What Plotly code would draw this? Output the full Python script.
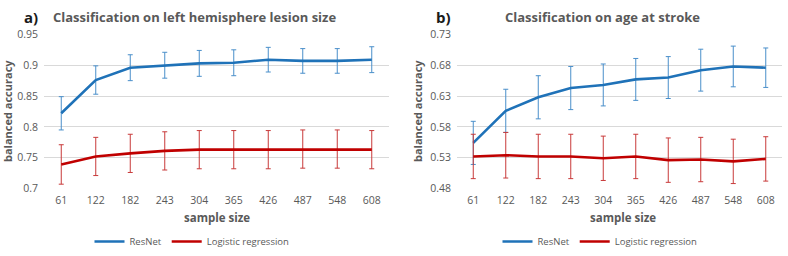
import plotly.graph_objects as go

sample_sizes = ["61", "122", "182", "243", "304", "365", "426", "487", "548", "608"]

# Panel a: left hemisphere lesion size
a_resnet = [0.822, 0.876, 0.896, 0.900, 0.903, 0.904, 0.909, 0.907, 0.907, 0.909]
a_resnet_err = [0.027, 0.023, 0.021, 0.021, 0.021, 0.021, 0.020, 0.020, 0.020, 0.021]
a_logreg = [0.739, 0.752, 0.757, 0.761, 0.763, 0.763, 0.763, 0.764, 0.764, 0.763]
a_logreg_err = [0.032, 0.031, 0.031, 0.031, 0.031, 0.031, 0.031, 0.031, 0.031, 0.031]

# Panel b: age at stroke
b_resnet = [0.554, 0.606, 0.628, 0.643, 0.648, 0.657, 0.660, 0.672, 0.678, 0.676]
b_resnet_err = [0.035, 0.035, 0.035, 0.035, 0.034, 0.034, 0.034, 0.034, 0.033, 0.032]
b_logreg = [0.532, 0.534, 0.532, 0.532, 0.529, 0.532, 0.526, 0.527, 0.524, 0.528]
b_logreg_err = [0.036, 0.037, 0.036, 0.036, 0.036, 0.036, 0.036, 0.036, 0.036, 0.036]

a_ticks = [0.7, 0.75, 0.8, 0.85, 0.9, 0.95]
a_ticktext = ["0.7", "0.75", "0.8", "0.85", "0.9", "0.95"]
b_ticks = [0.48, 0.53, 0.58, 0.63, 0.68, 0.73]
b_ticktext = ["0.48", "0.53", "0.58", "0.63", "0.68", "0.73"]

BLUE = "#1f72b8"
BLUE_ERR = "#4a8fca"
RED = "#c00000"
RED_ERR = "#c83a3a"
GRAY = "#595959"
FONT = "Open Sans"

fig = go.Figure()

def add_series(y, err, color, ecolor, name, xa, ya, legend):
    fig.add_trace(go.Scatter(
        x=sample_sizes, y=y, mode="lines", name=name,
        line=dict(color=color, width=2.6),
        error_y=dict(type="data", array=err, visible=True, color=ecolor, thickness=1, width=2.5),
        xaxis=xa, yaxis=ya, legend=legend, showlegend=True,
    ))

add_series(a_resnet, a_resnet_err, BLUE, BLUE_ERR, "ResNet", "x", "y", "legend")
add_series(a_logreg, a_logreg_err, RED, RED_ERR, "Logistic regression", "x", "y", "legend")
add_series(b_resnet, b_resnet_err, BLUE, BLUE_ERR, "ResNet", "x2", "y2", "legend2")
add_series(b_logreg, b_logreg_err, RED, RED_ERR, "Logistic regression", "x2", "y2", "legend2")

W, H = 788, 256
ydom = [1 - 192 / H, 1 - 29 / H]

xcommon = dict(type="category", showgrid=False, showline=False, zeroline=False, ticks="",
               tickfont=dict(family=FONT, size=10.5, color=GRAY), ticklabelstandoff=4)
ycommon = dict(showgrid=True, gridcolor="#d9d9d9", gridwidth=1, zeroline=False, showline=False,
               ticks="", tickfont=dict(family=FONT, size=10.5, color=GRAY), ticklabelstandoff=5)

fig.update_layout(
    width=W, height=H,
    margin=dict(l=0, r=0, t=0, b=0),
    paper_bgcolor="white", plot_bgcolor="white",
    font=dict(family=FONT, color=GRAY),
    xaxis=dict(domain=[44 / W, 389 / W], anchor="y", range=[-0.5, 9.5], **xcommon),
    yaxis=dict(domain=ydom, anchor="x", range=[0.7, 0.95], tickvals=a_ticks, ticktext=a_ticktext, **ycommon),
    xaxis2=dict(domain=[457 / W, 782 / W], anchor="y2", range=[-0.5, 9.5], **xcommon),
    yaxis2=dict(domain=ydom, anchor="x2", range=[0.48, 0.73], tickvals=b_ticks, ticktext=b_ticktext, **ycommon),
    legend=dict(orientation="h", x=192 / W, y=1 - 248 / H, xanchor="center", yanchor="middle",
                font=dict(family=FONT, size=9.5, color=GRAY), itemwidth=30, tracegroupgap=0,
                bgcolor="rgba(0,0,0,0)"),
    legend2=dict(orientation="h", x=600 / W, y=1 - 248 / H, xanchor="center", yanchor="middle",
                 font=dict(family=FONT, size=9.5, color=GRAY), itemwidth=30, tracegroupgap=0,
                 bgcolor="rgba(0,0,0,0)"),
)

def ann(text, x, y, size, color, bold=True, angle=0, xanchor="center"):
    fig.add_annotation(text=f"<b>{text}</b>" if bold else text, x=x / W, y=1 - y / H,
                       xref="paper", yref="paper", showarrow=False, textangle=angle,
                       xanchor=xanchor, yanchor="middle",
                       font=dict(family=FONT, size=size, color=color))

ann("a)", 22, 11, 15, "#1a1a1a", xanchor="left")
ann("Classification on left hemisphere lesion size", 51, 11, 13, GRAY, xanchor="left")
ann("b)", 434, 11, 15, "#1a1a1a", xanchor="left")
ann("Classification on age at stroke", 503, 11, 13, GRAY, xanchor="left")
ann("sample size", 217, 223, 11.5, GRAY)
ann("sample size", 623, 223, 11.5, GRAY)
ann("balanced accuracy", 8, 110, 11, GRAY, angle=-90)
ann("balanced accuracy", 418, 110, 11, GRAY, angle=-90)

fig.write_html("out.html", config={"displayModeBar": False},
               post_script="document.body.style.margin='0';document.body.style.padding='0';document.body.style.overflow='hidden';")
